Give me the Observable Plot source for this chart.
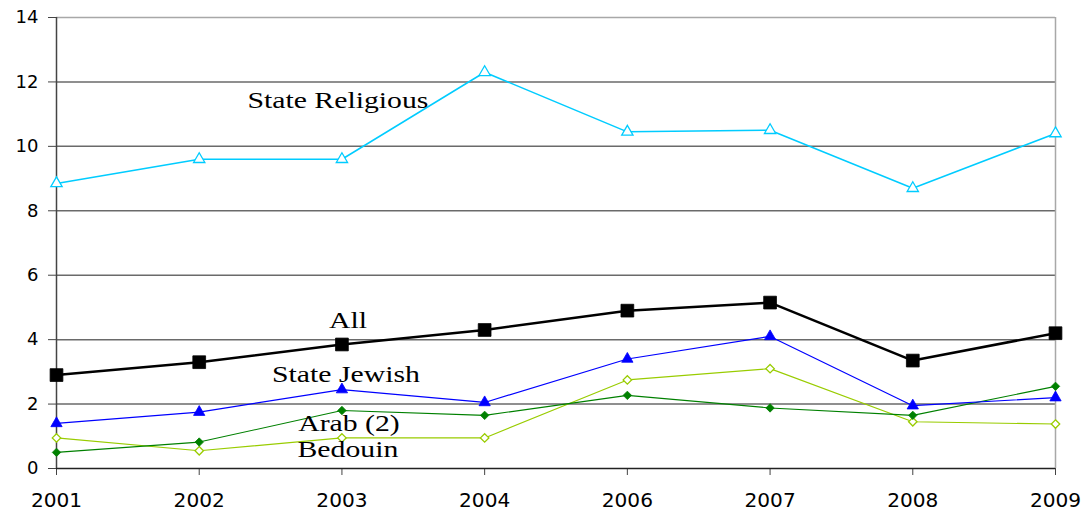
<!DOCTYPE html>
<html>
<head>
<meta charset="utf-8">
<script src="https://cdn.jsdelivr.net/npm/d3@7"></script>
<script src="https://cdn.jsdelivr.net/npm/@observablehq/plot@0.6"></script>
<style>
  html, body { margin: 0; padding: 0; background: #fff; }
</style>
</head>
<body>
<div id="chart"></div>
<script>
// School years shown on the horizontal axis (2005 not reported)
const years = ["2001", "2002", "2003", "2004", "2006", "2007", "2008", "2009"];

// Values per sector
const stateReligious = [8.85, 9.6, 9.6, 12.3, 10.45, 10.5, 8.7, 10.4];
const allSectors     = [2.9, 3.3, 3.85, 4.3, 4.9, 5.15, 3.35, 4.2];
const stateJewish    = [1.4, 1.75, 2.45, 2.05, 3.4, 4.1, 1.95, 2.2];
const arab           = [0.5, 0.82, 1.8, 1.65, 2.27, 1.88, 1.65, 2.55];
const bedouin        = [0.95, 0.55, 0.95, 0.95, 2.75, 3.1, 1.45, 1.38];

// Vertical axis ticks
const yTicks = [0, 2, 4, 6, 8, 10, 12, 14];

// Series drawing styles (drawn back to front)
const series = [
  {name: "State Religious", values: stateReligious, color: "#00ccff", width: 1.5, symbol: "triangle", r: 4.2, filled: false},
  {name: "Bedouin",         values: bedouin,        color: "#99cc00", width: 1.1, symbol: "diamond2", r: 3.8, filled: false},
  {name: "Arab (2)",        values: arab,           color: "#008000", width: 1.1, symbol: "diamond2", r: 3.8, filled: true},
  {name: "State Jewish",    values: stateJewish,    color: "#0000ff", width: 1.2, symbol: "triangle", r: 4.2, filled: true},
  {name: "All",             values: allSectors,     color: "#000000", width: 2.5, symbol: "square",   r: 7.2, filled: true}
];

const rowsOf = s => years.map((year, i) => ({year, value: s.values[i], series: s.name}));

// Series name annotations placed beside the lines
const labels = [
  {text: "State Religious", year: "2003", value: 11.43, dx: -4},
  {text: "All",             year: "2003", value: 4.6,   dx: 6},
  {text: "State Jewish",    year: "2003", value: 2.92,  dx: 4},
  {text: "Arab (2)",        year: "2003", value: 1.41,  dx: 7},
  {text: "Bedouin",         year: "2003", value: 0.59,  dx: 6}
];

const marks = [
  Plot.ruleY(yTicks.filter(v => v > 0 && v < 14), {stroke: "#6a6a6a", strokeWidth: 1.5}),
  Plot.ruleY([14], {stroke: "#a8a8a8", strokeWidth: 1.5}),
  Plot.ruleX([years[years.length - 1]], {stroke: "#a8a8a8", strokeWidth: 1.5}),
  Plot.axisY({ticks: yTicks, tickSize: 8, tickPadding: 10, tickFormat: d => String(d),
              label: null, stroke: "#444", fontSize: 18}),
  Plot.axisX({tickSize: 7, tickPadding: 18, label: null, stroke: "#444", fontSize: 19}),
  Plot.ruleX([years[0]], {stroke: "#444", strokeWidth: 1.5}),
  Plot.ruleY([0], {stroke: "#222", strokeWidth: 1.5})
];

for (const s of series) {
  const rows = rowsOf(s);
  marks.push(Plot.line(rows, {x: "year", y: "value", stroke: s.color, strokeWidth: s.width}));
  marks.push(Plot.dot(rows, {
    x: "year", y: "value", symbol: s.symbol, r: s.r,
    fill: s.filled ? s.color : "white", stroke: s.color, strokeWidth: s.filled ? 0.8 : 1.3
  }));
}

// dx is a constant option, so each name gets its own text mark
for (const l of labels) {
  marks.push(Plot.text([l], {
    x: "year", y: "value", text: "text", dx: l.dx,
    fontFamily: "Liberation Serif", fontSize: 24, fill: "black", textAnchor: "middle"
  }));
}

const chart = Plot.plot({
  width: 1086,
  height: 513,
  marginLeft: 56,
  marginRight: 31,
  marginTop: 17,
  marginBottom: 45,
  x: {type: "point", domain: years, padding: 0, round: false},
  y: {domain: [0, 14]},
  style: {fontFamily: "'DejaVu Sans', sans-serif", fontSize: "18px", color: "black", background: "white"},
  marks
});

document.getElementById("chart").appendChild(chart);

// The series names are set in a wide serif face: stretch them horizontally.
d3.select(chart).selectAll('g[aria-label="text"] text').each(function () {
  const t = this.getAttribute("transform") || "";
  this.setAttribute("transform", t + " scale(1.24,1)");
});
d3.select(chart).selectAll('g[aria-label="x-axis tick label"] text').each(function () {
  const t = this.getAttribute("transform") || "";
  this.setAttribute("transform", t + " scale(1.06,1)");
});
</script>
</body>
</html>
